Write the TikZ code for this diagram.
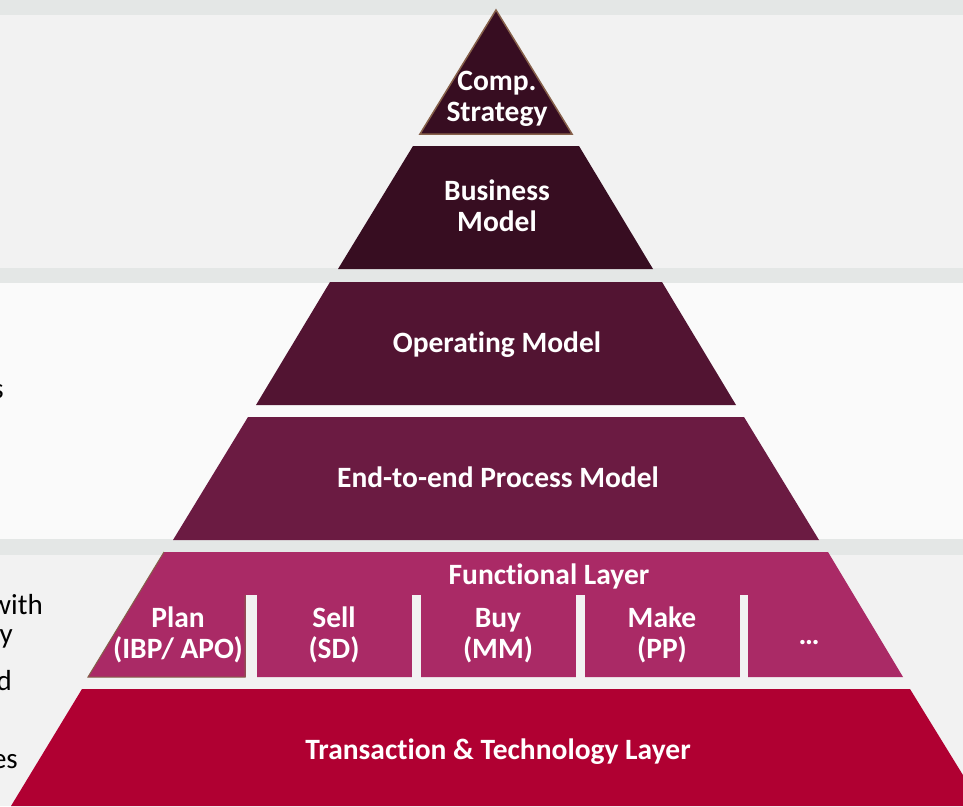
\documentclass[tikz,border=0pt]{standalone}
\usepackage{fontspec}
\setmainfont{Carlito}[Ligatures=NoCommon]
\definecolor{sepgray}{HTML}{E4E7E6}
\definecolor{bggray}{HTML}{F2F2F2}
\definecolor{bgwhite}{HTML}{FAFAFA}
\definecolor{stratcol}{HTML}{370D21}
\definecolor{opcol}{HTML}{521432}
\definecolor{proccol}{HTML}{6B1B42}
\definecolor{funccol}{HTML}{AA2A66}
\definecolor{transcol}{HTML}{B00032}
\definecolor{edgebrown}{HTML}{86604A}

\begin{document}
\begin{tikzpicture}[x=1pt,y=-1pt,
  lbl/.style={text=white,font=\fontsize{29.5}{31}\selectfont\bfseries,align=center,inner sep=0pt,anchor=base},
  cut/.style={text=black,font=\fontsize{29}{31}\selectfont,inner sep=0pt,anchor=base east}]
\useasboundingbox (0,0) rectangle (963,806);
\clip (0,0) rectangle (963,806);
\fill[sepgray] (0,0) rectangle (963,15);
\fill[bggray] (0,15) rectangle (963,268);
\fill[sepgray] (0,268) rectangle (963,283);
\fill[bgwhite] (0,283) rectangle (963,539);
\fill[sepgray] (0,539) rectangle (963,555);
\fill[bggray] (0,555) rectangle (963,806);
\filldraw[fill=stratcol,draw=edgebrown,line width=1.5pt] (496,10) -- (572,134) -- (420,134) -- cycle;
\fill[stratcol] (413,146) -- (579,146) -- (653,269) -- (338,269) -- cycle;
\fill[opcol] (330,282) -- (662,282) -- (736,405) -- (256,405) -- cycle;
\fill[proccol] (248,417) -- (744,417) -- (819,540) -- (173,540) -- cycle;
\fill[funccol] (164,552) -- (828,552) -- (903,677) -- (88,677) -- cycle;
\fill[bggray] (246,595) rectangle (257,678);
\fill[bggray] (412,595) rectangle (421,678);
\fill[bggray] (576,595) rectangle (585,678);
\fill[bggray] (740,595) rectangle (748,678);
\draw[edgebrown,line width=1pt] (164,552) -- (88,677) -- (245,677) -- (245,595);
\fill[transcol] (82,689) -- (910,689) -- (982,806) -- (11,806) -- cycle;
\draw (497,121) node[lbl] (strat) {Comp.\\Strategy};
\draw (497,231) node[lbl] (busm) {Business\\Model};
\draw (497,352) node[lbl] (opm) {Operating Model};
\draw (498,487) node[lbl] (procm) {End-to-end Process Model};
\draw (549,584) node[lbl] (funcl) {Functional Layer};
\draw (178,658) node[lbl] (plan) {Plan\\(IBP/ APO)};
\draw (334,658) node[lbl] (sell) {Sell\\(SD)};
\draw (498,658) node[lbl] (buy) {Buy\\(MM)};
\draw (662,658) node[lbl] (make) {Make\\(PP)};
\draw (809,644) node[lbl] (more) {…};
\draw (498,759) node[lbl] (transl) {Transaction \& Technology Layer};
\draw (4,398) node[cut] (cuta) {s};
\draw (43,614) node[cut] (cutb) {with};
\draw (13,643) node[cut] (cutc) {y};
\draw (12,690) node[cut] (cutd) {d};
\draw (18,768) node[cut] (cute) {es};
\end{tikzpicture}
\end{document}
